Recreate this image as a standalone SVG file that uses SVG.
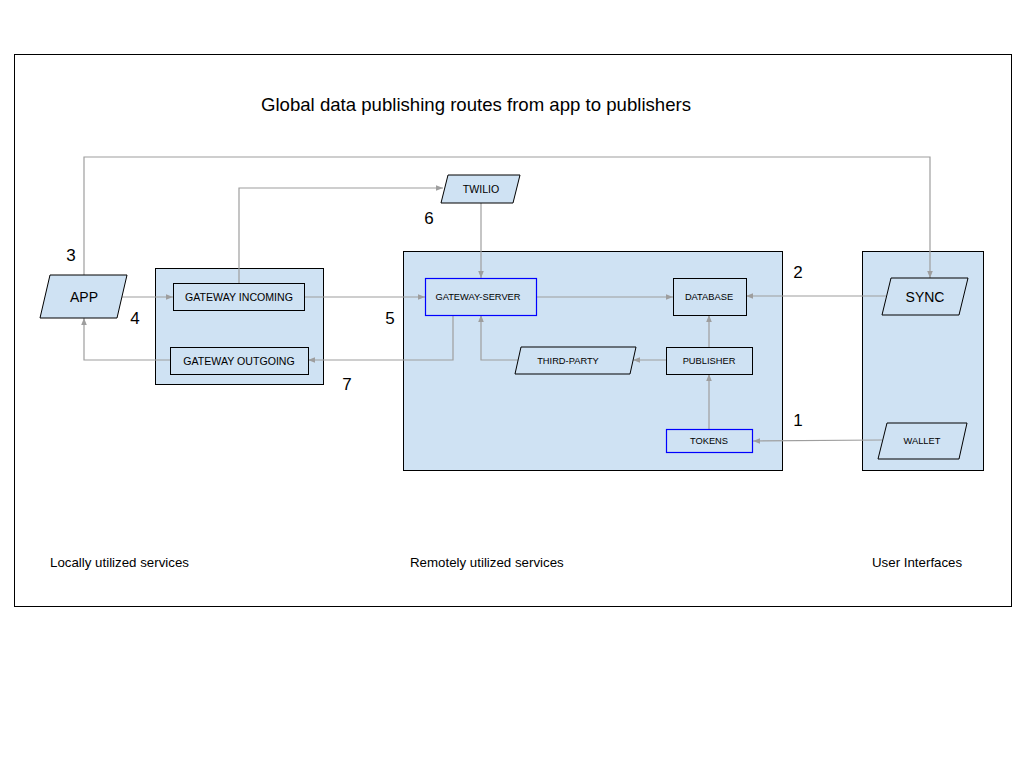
<svg xmlns="http://www.w3.org/2000/svg" width="1024" height="768" viewBox="0 0 1024 768">
<style>
.box{fill:#cfe2f3;stroke:#000;stroke-width:1}
.blue{fill:#cfe2f3;stroke:#0000ff;stroke-width:1.2}
.t{font-family:"Liberation Sans",Arial,sans-serif;font-size:10.6px;fill:#000;text-anchor:middle;dominant-baseline:central}
.ts{font-family:"Liberation Sans",Arial,sans-serif;font-size:9.3px;fill:#000;text-anchor:middle;dominant-baseline:central}
.tb{font-family:"Liberation Sans",Arial,sans-serif;font-size:14px;fill:#000;text-anchor:middle;dominant-baseline:central}
.num{font-family:"Liberation Sans",Arial,sans-serif;font-size:17px;fill:#000;text-anchor:middle;dominant-baseline:central}
.lab{font-family:"Liberation Sans",Arial,sans-serif;font-size:13.3px;fill:#000;dominant-baseline:central}
.c{fill:none;stroke:#9e9e9e;stroke-width:1.2}
</style>
<defs>
<marker id="ah" viewBox="0 0 10 10" refX="10" refY="5" markerWidth="7" markerHeight="7" markerUnits="userSpaceOnUse" orient="auto">
<path d="M0,1 L10,5 L0,9 z" fill="#9e9e9e"/>
</marker>
</defs>
<rect x="0" y="0" width="1024" height="768" fill="#fff"/>
<rect x="14.5" y="54.5" width="997" height="552" fill="#fff" stroke="#000" stroke-width="1"/>
<text x="476" y="104" font-family="'Liberation Sans',Arial,sans-serif" font-size="18.6" text-anchor="middle" dominant-baseline="central">Global data publishing routes from app to publishers</text>

<g id="containers">
<rect id="local" class="box" x="155.5" y="268.5" width="168" height="116"/>
<rect id="remote" class="box" x="403.5" y="251.5" width="379" height="219"/>
<rect id="user" class="box" x="862.5" y="251.5" width="121" height="219"/>
</g>

<g id="connectors">
<polyline class="c" points="84,275 84,157 930,157 930,278" marker-end="url(#ah)"/>
<polyline class="c" points="122,297 173,297" marker-end="url(#ah)"/>
<polyline class="c" points="170,360 84,360 84,318" marker-end="url(#ah)"/>
<polyline class="c" points="239,283 239,188 443,188" marker-end="url(#ah)"/>
<polyline class="c" points="481,203 481,278" marker-end="url(#ah)"/>
<polyline class="c" points="304,297 425,297" marker-end="url(#ah)"/>
<polyline class="c" points="537,297 673,297" marker-end="url(#ah)"/>
<polyline class="c" points="886,296 746,296" marker-end="url(#ah)"/>
<polyline class="c" points="453,315 453,360 308,360" marker-end="url(#ah)"/>
<polyline class="c" points="518,360 481,360 481,315" marker-end="url(#ah)"/>
<polyline class="c" points="666,360 633,360" marker-end="url(#ah)"/>
<polyline class="c" points="709,347 709,315" marker-end="url(#ah)"/>
<polyline class="c" points="709,429 709,374" marker-end="url(#ah)"/>
<polyline class="c" points="882,440 753,441" marker-end="url(#ah)"/>
</g>

<g id="app"><polygon class="box" points="40,318 50,275 127,275 117,318"/><text class="tb" x="84" y="297" font-size="15">APP</text></g>
<g id="gateway-incoming"><rect class="box" x="173.5" y="283.5" width="131" height="27"/><text class="t" x="239" y="297">GATEWAY INCOMING</text></g>
<g id="gateway-outgoing"><rect class="box" x="170.5" y="347.5" width="138" height="27"/><text class="t" x="239" y="361">GATEWAY OUTGOING</text></g>
<g id="twilio"><polygon class="box" points="441,203 448,175 520,175 513,203"/><text class="t" x="481" y="189">TWILIO</text></g>
<g id="gateway-server"><rect class="blue" x="425.5" y="278.5" width="111" height="37"/><text class="ts" x="478" y="297">GATEWAY-SERVER</text></g>
<g id="database"><rect class="box" x="673.5" y="278.5" width="73" height="37"/><text class="ts" x="709" y="297">DATABASE</text></g>
<g id="third-party"><polygon class="box" points="515,374 521,347 636,347 630,374"/><text class="ts" x="568" y="361">THIRD-PARTY</text></g>
<g id="publisher"><rect class="box" x="666.5" y="347.5" width="86" height="27"/><text class="ts" x="709" y="361">PUBLISHER</text></g>
<g id="tokens"><rect class="blue" x="666.5" y="429.5" width="86" height="23"/><text class="ts" x="709" y="441">TOKENS</text></g>
<g id="sync"><polygon class="box" points="882,315 891,278 968,278 959,315"/><text class="tb" x="925" y="297">SYNC</text></g>
<g id="wallet"><polygon class="box" points="878,459 887,423 967,423 959,459"/><text class="ts" x="922" y="441">WALLET</text></g>

<g id="numbers">
<text class="num" x="71" y="255">3</text>
<text class="num" x="135" y="318">4</text>
<text class="num" x="390" y="318">5</text>
<text class="num" x="429" y="218">6</text>
<text class="num" x="347" y="384">7</text>
<text class="num" x="798" y="272">2</text>
<text class="num" x="798" y="420">1</text>
</g>
<g id="labels">
<text class="lab" x="50" y="562">Locally utilized services</text>
<text class="lab" x="410" y="562">Remotely utilized services</text>
<text class="lab" x="872" y="562">User Interfaces</text>
</g>
</svg>
